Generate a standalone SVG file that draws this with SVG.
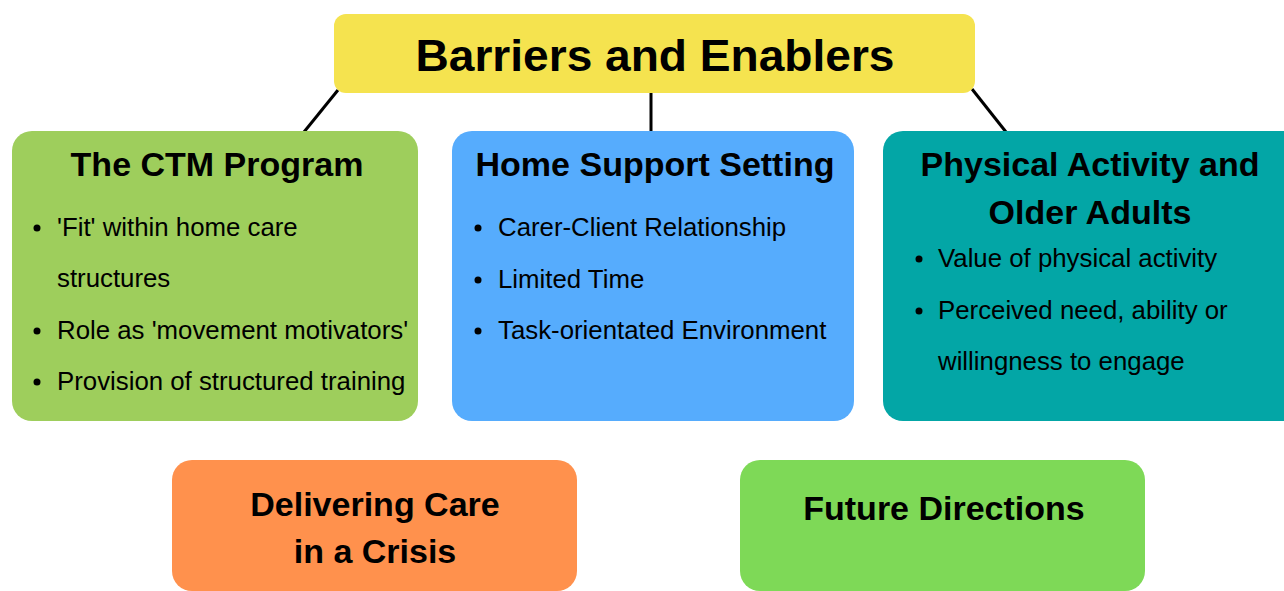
<svg xmlns="http://www.w3.org/2000/svg" width="1284" height="591" viewBox="0 0 1284 591">
<style>
.h{font-family:"Liberation Sans",Arial,sans-serif;font-weight:bold;font-size:34px;fill:#000;text-anchor:middle}
.b{font-family:"Liberation Sans",Arial,sans-serif;font-size:25.8px;fill:#000}
.c{stroke:#000;stroke-width:3;fill:none}
</style>
<rect width="1284" height="591" fill="#fff"/>
<g id="connectors">
<line class="c" x1="338" y1="90" x2="304" y2="132"/>
<line class="c" x1="651" y1="93" x2="651" y2="132"/>
<line class="c" x1="972" y1="89" x2="1006" y2="132"/>
</g>
<g id="title">
<rect x="334" y="14" width="641" height="79" rx="12" fill="#F5E34F"/>
<text class="h" x="655" y="71" style="font-size:44px" textLength="479" lengthAdjust="spacingAndGlyphs">Barriers and Enablers</text>
</g>
<g id="ctm">
<rect x="12" y="131" width="406" height="290" rx="20" fill="#9ECE5C"/>
<text class="h" x="217" y="176">The CTM Program</text>
<circle cx="37" cy="228" r="3.5"/>
<text class="b" x="57" y="236">'Fit' within home care</text>
<text class="b" x="57" y="287">structures</text>
<circle cx="37" cy="331" r="3.5"/>
<text class="b" x="57" y="339">Role as 'movement motivators'</text>
<circle cx="37" cy="382" r="3.5"/>
<text class="b" x="57" y="390">Provision of structured training</text>
</g>
<g id="home">
<rect x="452" y="131" width="402" height="290" rx="20" fill="#56ACFD"/>
<text class="h" x="655" y="176">Home Support Setting</text>
<circle cx="478" cy="228" r="3.5"/>
<text class="b" x="498" y="236">Carer-Client Relationship</text>
<circle cx="478" cy="280" r="3.5"/>
<text class="b" x="498" y="288">Limited Time</text>
<circle cx="478" cy="331" r="3.5"/>
<text class="b" x="498" y="339">Task-orientated Environment</text>
</g>
<g id="physical">
<rect x="883" y="131" width="420" height="290" rx="20" fill="#03A6A6"/>
<text class="h" x="1090" y="176">Physical Activity and</text>
<text class="h" x="1090" y="224">Older Adults</text>
<circle cx="919" cy="259" r="3.5"/>
<text class="b" x="938" y="267">Value of physical activity</text>
<circle cx="919" cy="311" r="3.5"/>
<text class="b" x="938" y="319">Perceived need, ability or</text>
<text class="b" x="938" y="370">willingness to engage</text>
</g>
<g id="crisis">
<rect x="172" y="460" width="405" height="131" rx="20" fill="#FF914D"/>
<text class="h" x="375" y="516">Delivering Care</text>
<text class="h" x="375" y="563">in a Crisis</text>
</g>
<g id="future">
<rect x="740" y="460" width="405" height="131" rx="20" fill="#7ED957"/>
<text class="h" x="944" y="520">Future Directions</text>
</g>
</svg>
